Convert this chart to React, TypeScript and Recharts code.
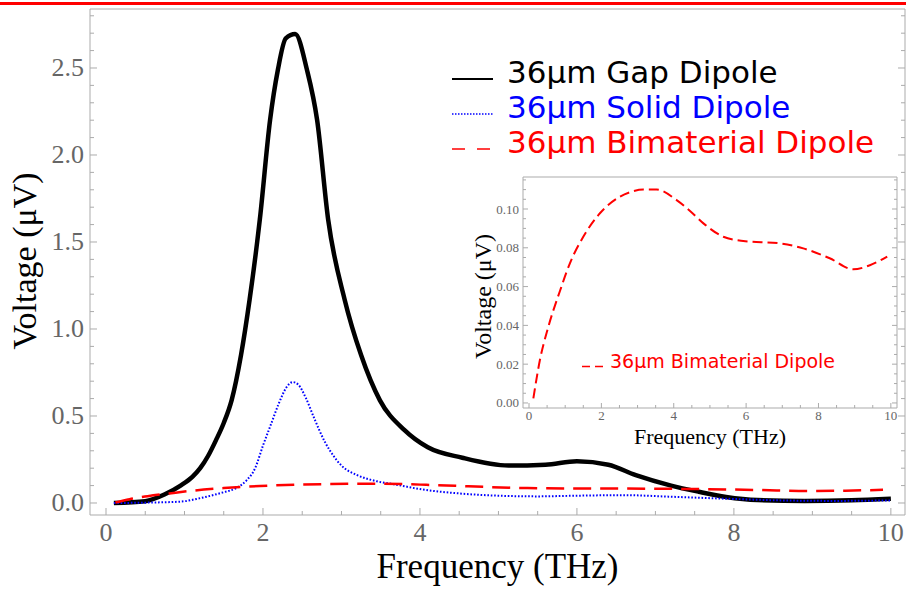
import React from 'react';
import { LineChart, Line, XAxis, YAxis, Legend, Label } from 'recharts';

// 36um Gap Dipole (black, solid)
const gapFreq = [0.1, 0.5, 0.75, 0.95, 1.1, 1.2, 1.3, 1.4, 1.5, 1.6, 1.72, 1.83, 1.96, 2.09, 2.19, 2.29, 2.41, 2.56, 2.69, 2.83, 3.04, 3.25, 3.49, 3.8, 4.1, 4.54, 5.13, 5.6, 6.0, 6.4, 6.75, 7.2, 7.55, 7.9, 8.3, 8.9, 9.5, 10.0];
const gapVolt = [0.0, 0.01, 0.05, 0.1, 0.15, 0.2, 0.27, 0.36, 0.46, 0.59, 0.85, 1.17, 1.63, 2.2, 2.49, 2.67, 2.695, 2.49, 2.2, 1.63, 1.17, 0.85, 0.59, 0.42, 0.32, 0.26, 0.215, 0.22, 0.24, 0.22, 0.16, 0.1, 0.065, 0.035, 0.017, 0.012, 0.016, 0.025];

// 36um Solid Dipole (blue, dotted)
const solidFreq = [0.1, 0.5, 0.95, 1.2, 1.37, 1.5, 1.66, 1.79, 1.9, 2.0, 2.1, 2.2, 2.3, 2.38, 2.45, 2.55, 2.65, 2.79, 2.9, 3.0, 3.2, 3.45, 3.7, 4.0, 4.5, 5.0, 5.5, 6.0, 6.6, 7.2, 8.0, 8.6, 9.3, 10.0];
const solidVolt = [0.0, 0.002, 0.008, 0.028, 0.046, 0.062, 0.086, 0.13, 0.2, 0.33, 0.45, 0.57, 0.665, 0.695, 0.68, 0.6, 0.49, 0.35, 0.27, 0.215, 0.16, 0.125, 0.105, 0.08, 0.055, 0.042, 0.038, 0.042, 0.045, 0.036, 0.023, 0.015, 0.012, 0.015];

// 36um Bimaterial Dipole (red, dashed)
const bimFreq = [0.12, 0.3, 0.53, 0.86, 1.13, 1.5, 1.96, 2.51, 2.85, 3.16, 3.53, 4.08, 4.45, 4.82, 5.37, 5.92, 6.93, 7.58, 8.31, 8.96, 9.42, 9.9];
const bimVolt = [0.0024, 0.022, 0.039, 0.058, 0.072, 0.0857, 0.0978, 0.1063, 0.109, 0.11, 0.11, 0.1046, 0.099, 0.0926, 0.0857, 0.0835, 0.0823, 0.0797, 0.0746, 0.0689, 0.071, 0.0755];

const seriesNames = {
    gap: '36μm Gap Dipole',
    solid: '36μm Solid Dipole',
    bim: '36μm Bimaterial Dipole',
};
const legendOrder = ['gap', 'solid', 'bim'];

// tick labels
const mainXLabels = [0, 2, 4, 6, 8, 10];
const mainYLabels = [0, 0.5, 1, 1.5, 2, 2.5];
const insetXLabels = [0, 2, 4, 6, 8, 10];
const insetYLabels = [0, 0.02, 0.04, 0.06, 0.08, 0.1];

// minor tick positions
const mainXTicks = Array.from({ length: 21 }, (_, i) => i / 2);
const mainYTicks = Array.from({ length: 29 }, (_, i) => i / 10);
const insetXTicks = Array.from({ length: 21 }, (_, i) => i / 2);
const insetYTicks = Array.from({ length: 24 }, (_, i) => i / 200);

const gapData = gapFreq.map((f, i) => ({ f, gap: gapVolt[i] }));
const solidData = solidFreq.map((f, i) => ({ f, solid: solidVolt[i] }));
const bimData = bimFreq.map((f, i) => ({ f, bim: bimVolt[i] }));

const FRAME = '#ababab';
const TICK_TEXT = '#666666';
const SERIF = '"Liberation Serif", "Times New Roman", Times, serif';
const SANS = '"DejaVu Sans", Verdana, sans-serif';

const dirs: Record<string, [number, number]> = {
    bottom: [0, -1],
    top: [0, 1],
    left: [1, 0],
    right: [-1, 0],
};

// inward pointing tick, longer on labelled values
const makeTick = (side: string, majors: number[], majorLen: number, minorLen: number, label?: (x: number, y: number, v: number) => React.ReactNode) => (props: any) => {
    const { x, y, payload } = props;
    const v = payload.value;
    const isMajor = majors.includes(v);
    const len = isMajor ? majorLen : minorLen;
    const d = dirs[side];
    return (
        <g>
            <line x1={x} y1={y} x2={x + d[0] * len} y2={y + d[1] * len} stroke={FRAME} strokeWidth={1} />
            {isMajor && label ? label(x, y, v) : null}
        </g>
    );
};

const MainBottomTick = makeTick('bottom', mainXLabels, 7, 4, (x, y, v) => (
    <text x={x} y={y + 26} textAnchor="middle" fontFamily={SERIF} fontSize={26} fill={TICK_TEXT}>{v}</text>
));
const MainLeftTick = makeTick('left', mainYLabels, 7, 4, (x, y, v) => (
    <text x={x - 6} y={y + 8} textAnchor="end" fontFamily={SERIF} fontSize={26} fill={TICK_TEXT}>{v.toFixed(1)}</text>
));
const MainTopTick = makeTick('top', mainXLabels, 7, 4);
const MainRightTick = makeTick('right', mainYLabels, 7, 4);

const InsetBottomTick = makeTick('bottom', insetXLabels, 5, 3, (x, y, v) => (
    <text x={x} y={y + 12} textAnchor="middle" fontFamily={SERIF} fontSize={13} fill={TICK_TEXT}>{v}</text>
));
const InsetLeftTick = makeTick('left', insetYLabels, 5, 3, (x, y, v) => (
    <text x={x - 4} y={y + 4.5} textAnchor="end" fontFamily={SERIF} fontSize={13} fill={TICK_TEXT}>{v.toFixed(2)}</text>
));
const InsetTopTick = makeTick('top', insetXLabels, 5, 3);
const InsetRightTick = makeTick('right', insetYLabels, 5, 3);

const legendSample: Record<string, { stroke: string; dash?: string; width: number }> = {
    gap: { stroke: '#000000', width: 2 },
    solid: { stroke: '#0000ff', dash: '1.5 1.5', width: 1.6 },
    bim: { stroke: '#ff0000', dash: '13 12', width: 1.6 },
};

const MainLegend = (props: any) => {
    const entries = legendOrder
        .map((k) => (props.payload || []).find((e: any) => e.dataKey === k))
        .filter(Boolean);
    return (
        <svg width={460} height={110} style={{ display: 'block', overflow: 'visible' }}>
            {entries.map((e: any, i: number) => {
                const s = legendSample[e.dataKey];
                const base = 28 + 35 * i;
                return (
                    <g key={e.dataKey}>
                        <line x1={7} x2={48} y1={base - 4} y2={base - 4} stroke={s.stroke} strokeWidth={s.width} strokeDasharray={s.dash} />
                        <text x={62} y={base} fontFamily={SANS} fontSize={31} fill={e.color}>{e.value}</text>
                    </g>
                );
            })}
        </svg>
    );
};

const InsetLegend = (props: any) => (
    <svg width={280} height={30} style={{ display: 'block', overflow: 'visible' }}>
        {(props.payload || []).map((e: any) => (
            <g key={e.dataKey}>
                <line x1={12} x2={34} y1={16.5} y2={16.5} stroke={e.color} strokeWidth={1.4} strokeDasharray="8 5" />
                <text x={40} y={18} fontFamily={SANS} fontSize={19} fill={e.color}>{e.value}</text>
            </g>
        ))}
    </svg>
);

const MainXTitle = (props: any) => {
    const vb = props.viewBox || { x: 90, y: 515, width: 815 };
    return (
        <text x={vb.x + vb.width / 2} y={vb.y + 63} textAnchor="middle" fontFamily={SERIF} fontSize={35} fill="#000">Frequency (THz)</text>
    );
};
const MainYTitle = (props: any) => {
    const vb = props.viewBox || { x: 89, y: 9, width: 1, height: 506 };
    const tx = vb.x + vb.width - 54;
    const ty = vb.y + vb.height / 2 - 1;
    return (
        <text x={tx} y={ty} transform={`rotate(-90, ${tx}, ${ty})`} textAnchor="middle" fontFamily={SERIF} fontSize={34} fill="#000">Voltage (μV)</text>
    );
};
const InsetXTitle = (props: any) => {
    const vb = props.viewBox || { x: 53, y: 238, width: 374 };
    return (
        <text x={vb.x + vb.width / 2} y={vb.y + 36} textAnchor="middle" fontFamily={SERIF} fontSize={22} fill="#000">Frequency (THz)</text>
    );
};
const InsetYTitle = (props: any) => {
    const vb = props.viewBox || { x: 52, y: 7, width: 1, height: 231 };
    const tx = vb.x + vb.width - 32;
    const ty = vb.y + vb.height / 2 + 4;
    return (
        <text x={tx} y={ty} transform={`rotate(-90, ${tx}, ${ty})`} textAnchor="middle" fontFamily={SERIF} fontSize={24} fill="#000">Voltage (μV)</text>
    );
};

const mainXDomain = [-0.204, 10.18];
const mainYDomain = [-0.069, 2.839];
const insetXDomain = [-0.166, 10.17];
const insetYDomain = [-0.0026, 0.1165];

const App: React.FC = () => {
    return (
        <div style={{ position: 'absolute', left: 0, top: 0, width: 906, height: 590, background: '#fff', overflow: 'hidden' }}>
            <div style={{ position: 'absolute', left: 0, top: 2, width: 906, height: 3, background: '#ff0000' }} />

            <div style={{ position: 'absolute', left: 0, top: 0 }}>
                <LineChart width={906} height={590} margin={{ top: 8, right: 0, bottom: 74, left: 89 }}>
                    <XAxis
                        type="number"
                        dataKey="f"
                        domain={mainXDomain}
                        allowDataOverflow
                        ticks={mainXTicks}
                        interval={0}
                        height={1}
                        tickSize={0}
                        tickMargin={0}
                        tickLine={false}
                        stroke={FRAME}
                        tick={MainBottomTick}
                    >
                        <Label content={MainXTitle} />
                    </XAxis>
                    <XAxis
                        xAxisId="top"
                        orientation="top"
                        type="number"
                        domain={mainXDomain}
                        allowDataOverflow
                        ticks={mainXTicks}
                        interval={0}
                        height={1}
                        tickSize={0}
                        tickMargin={0}
                        tickLine={false}
                        stroke={FRAME}
                        tick={MainTopTick}
                    />
                    <YAxis
                        type="number"
                        domain={mainYDomain}
                        allowDataOverflow
                        ticks={mainYTicks}
                        interval={0}
                        width={1}
                        tickSize={0}
                        tickMargin={0}
                        tickLine={false}
                        stroke={FRAME}
                        tick={MainLeftTick}
                    >
                        <Label content={MainYTitle} />
                    </YAxis>
                    <YAxis
                        yAxisId="right"
                        orientation="right"
                        type="number"
                        domain={mainYDomain}
                        allowDataOverflow
                        ticks={mainYTicks}
                        interval={0}
                        width={1}
                        tickSize={0}
                        tickMargin={0}
                        tickLine={false}
                        stroke={FRAME}
                        tick={MainRightTick}
                    />
                    <Line
                        data={gapData}
                        dataKey="gap"
                        name={seriesNames.gap}
                        type="monotone"
                        stroke="#000000"
                        strokeWidth={4.5}
                        dot={false}
                        activeDot={false}
                        isAnimationActive={false}
                    />
                    <Line
                        data={solidData}
                        dataKey="solid"
                        name={seriesNames.solid}
                        type="monotone"
                        stroke="#0000ff"
                        strokeWidth={2}
                        strokeDasharray="1.6 1.8"
                        dot={false}
                        activeDot={false}
                        isAnimationActive={false}
                    />
                    <Line
                        data={bimData}
                        dataKey="bim"
                        name={seriesNames.bim}
                        type="monotone"
                        stroke="#ff0000"
                        strokeWidth={2.5}
                        strokeDasharray="18 9"
                        dot={false}
                        activeDot={false}
                        isAnimationActive={false}
                    />
                    <Legend
                        layout="horizontal"
                        verticalAlign="middle"
                        align="center"
                        wrapperStyle={{ left: 445, top: 55, width: 460, height: 110 }}
                        content={MainLegend}
                    />
                </LineChart>
            </div>

            {/* inset: bimaterial dipole alone */}
            <div style={{ position: 'absolute', left: 470, top: 170 }}>
                <LineChart width={436} height={280} margin={{ top: 6, right: 8, bottom: 41, left: 52 }}>
                    <XAxis
                        type="number"
                        dataKey="f"
                        domain={insetXDomain}
                        allowDataOverflow
                        ticks={insetXTicks}
                        interval={0}
                        height={1}
                        tickSize={0}
                        tickMargin={0}
                        tickLine={false}
                        stroke={FRAME}
                        tick={InsetBottomTick}
                    >
                        <Label content={InsetXTitle} />
                    </XAxis>
                    <XAxis
                        xAxisId="top"
                        orientation="top"
                        type="number"
                        domain={insetXDomain}
                        allowDataOverflow
                        ticks={insetXTicks}
                        interval={0}
                        height={1}
                        tickSize={0}
                        tickMargin={0}
                        tickLine={false}
                        stroke={FRAME}
                        tick={InsetTopTick}
                    />
                    <YAxis
                        type="number"
                        domain={insetYDomain}
                        allowDataOverflow
                        ticks={insetYTicks}
                        interval={0}
                        width={1}
                        tickSize={0}
                        tickMargin={0}
                        tickLine={false}
                        stroke={FRAME}
                        tick={InsetLeftTick}
                    >
                        <Label content={InsetYTitle} />
                    </YAxis>
                    <YAxis
                        yAxisId="right"
                        orientation="right"
                        type="number"
                        domain={insetYDomain}
                        allowDataOverflow
                        ticks={insetYTicks}
                        interval={0}
                        width={1}
                        tickSize={0}
                        tickMargin={0}
                        tickLine={false}
                        stroke={FRAME}
                        tick={InsetRightTick}
                    />
                    <Line
                        data={bimData}
                        dataKey="bim"
                        name={seriesNames.bim}
                        type="monotone"
                        stroke="#ff0000"
                        strokeWidth={2}
                        strokeDasharray="10 5"
                        dot={false}
                        activeDot={false}
                        isAnimationActive={false}
                    />
                    <Legend
                        layout="horizontal"
                        verticalAlign="middle"
                        align="center"
                        wrapperStyle={{ left: 100, top: 180, width: 280, height: 30 }}
                        content={InsetLegend}
                    />
                </LineChart>
            </div>
        </div>
    );
};

export default App;
